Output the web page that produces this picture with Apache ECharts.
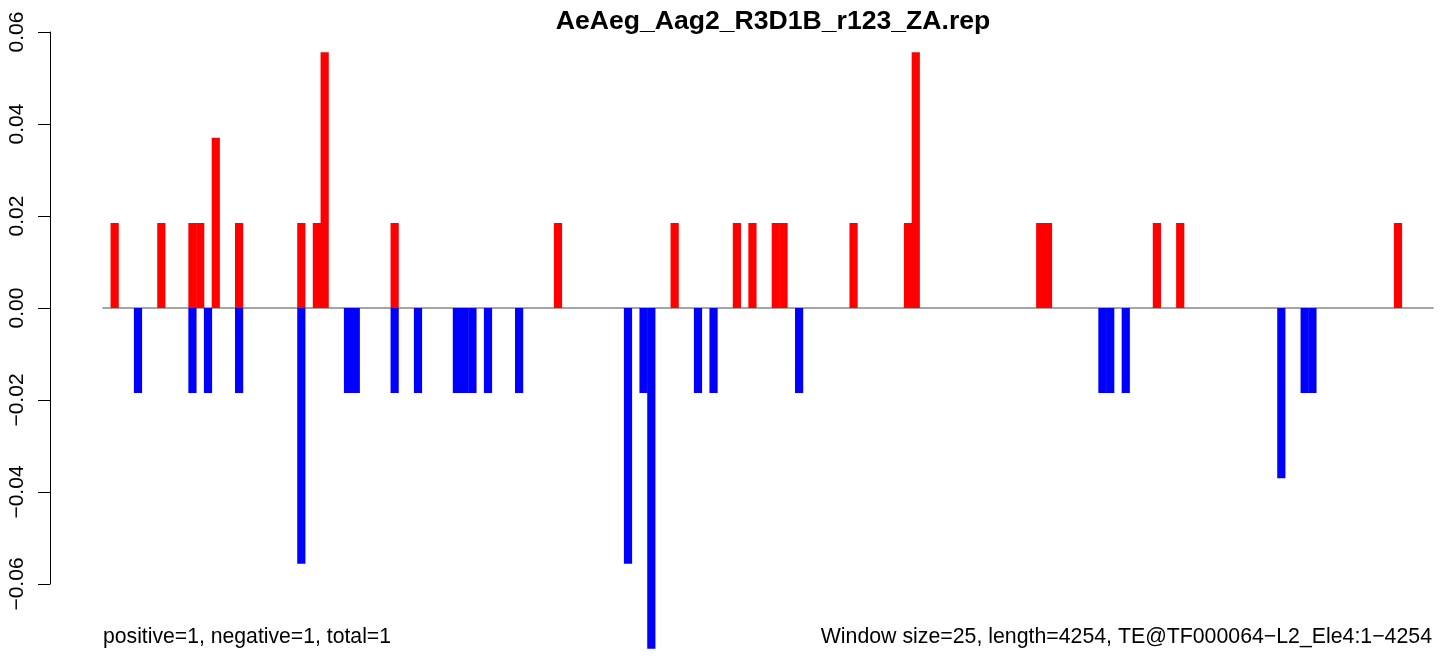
<!DOCTYPE html>
<html>
<head>
    <meta charset="utf-8">
    <title>AeAeg_Aag2_R3D1B_r123_ZA.rep</title>
    <script src="https://cdn.jsdelivr.net/npm/echarts@6/dist/echarts.min.js"></script>
</head>
<body style="margin:0">
<div id="main" style="width: 1444px;height:658px;"></div>
<script type="text/javascript">
    var seqLength = 4254;
    var windowSize = 25;
    // windows (index) that carry a positive / negative score
    var posWindows = [1, 7, 11, 12, 14, 17, 25, 27, 28, 37, 58, 73, 81, 83, 86, 87, 96, 103, 104, 120, 121, 135, 138, 166];
    var posValues  = [0.0185, 0.0185, 0.0185, 0.0185, 0.037, 0.0185, 0.0185, 0.0185, 0.0556, 0.0185, 0.0185, 0.0185,
                      0.0185, 0.0185, 0.0185, 0.0185, 0.0185, 0.0185, 0.0556, 0.0185, 0.0185, 0.0185, 0.0185, 0.0185];
    var negWindows = [4, 11, 13, 17, 25, 31, 32, 37, 40, 45, 46, 47, 49, 53, 67, 69, 70, 76, 78, 89, 128, 129, 131, 151, 154, 155];
    var negValues  = [-0.0185, -0.0185, -0.0185, -0.0185, -0.0556, -0.0185, -0.0185, -0.0185, -0.0185, -0.0185, -0.0185,
                      -0.0185, -0.0185, -0.0185, -0.0556, -0.0185, -0.0741, -0.0185, -0.0185, -0.0185, -0.0185, -0.0185,
                      -0.0185, -0.037, -0.0185, -0.0185];
    var yTickMin = -0.06, yTickMax = 0.06, yTickStep = 0.02;

    var titleText = 'AeAeg_Aag2_R3D1B_r123_ZA.rep';
    var leftNote = 'positive=1, negative=1, total=1';
    var rightNote = 'Window size=25, length=4254, TE@TF000064\u2212L2_Ele4:1\u22124254';

    // one category per window
    var nWin = Math.ceil(seqLength / windowSize);
    var windows = [];
    var pos = [], neg = [];
    for (var i = 0; i < nWin; i++) {
        windows.push(i * windowSize + 1);
        pos.push('-');
        neg.push('-');
    }
    for (var i = 0; i < posWindows.length; i++) pos[posWindows[i]] = posValues[i];
    for (var i = 0; i < negWindows.length; i++) neg[negWindows[i]] = negValues[i];

    var font = "'Liberation Sans', Arial, Helvetica, sans-serif";

    var chart = echarts.init(document.getElementById('main'));
    chart.setOption({
        animation: false,
        backgroundColor: '#ffffff',
        title: {
            text: titleText,
            left: 768,
            textAlign: 'center',
            top: 3,
            textStyle: {fontFamily: font, fontSize: 26.6, fontWeight: 'bold', color: '#000'}
        },
        grid: [
            {left: 103, right: 11, top: 32, bottom: 5},
            {left: 50, width: 1, top: 32, height: 552}
        ],
        xAxis: [
            {
                type: 'category', gridIndex: 0, data: windows,
                axisLine: {show: true, onZero: true, lineStyle: {color: '#888888', width: 1.5}},
                axisTick: {show: false}, axisLabel: {show: false}, splitLine: {show: false}
            },
            {type: 'value', gridIndex: 1, show: false}
        ],
        yAxis: [
            {type: 'value', gridIndex: 0, min: -0.075, max: 0.06, show: false},
            {
                type: 'value', gridIndex: 1, min: yTickMin, max: yTickMax, interval: yTickStep,
                axisLine: {show: true, lineStyle: {color: '#000', width: 1}},
                axisTick: {show: true, length: 12, lineStyle: {color: '#000', width: 1}},
                splitLine: {show: false},
                axisLabel: {
                    rotate: 90, margin: 22, fontFamily: font, fontSize: 21, color: '#000',
                    formatter: function (v) {
                        if (Math.abs(v) < 1e-9) return '0.00';
                        return v.toFixed(2).replace('-', '\u2212');
                    }
                }
            }
        ],
        series: [
            {
                type: 'bar', name: 'positive', data: pos, xAxisIndex: 0, yAxisIndex: 0,
                barWidth: 8.2, barGap: '-100%',
                itemStyle: {color: '#ff0000'}
            },
            {
                type: 'bar', name: 'negative', data: neg, xAxisIndex: 0, yAxisIndex: 0,
                barWidth: 8.2, barGap: '-100%',
                itemStyle: {color: '#0000ff'}
            }
        ],
        graphic: [
            {
                type: 'text', left: 103, top: 627,
                style: {text: leftNote, font: '21.2px ' + font, fill: '#000'}
            },
            {
                type: 'text', right: 12, top: 627,
                style: {text: rightNote, font: '21.3px ' + font, fill: '#000'}
            }
        ]
    });
</script>
</body>
</html>
